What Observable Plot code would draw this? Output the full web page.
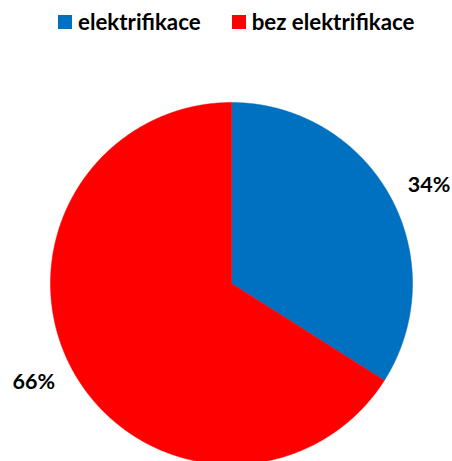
<!DOCTYPE html>
<html><head><meta charset="utf-8">
<script src="https://cdn.jsdelivr.net/npm/d3@7"></script>
<script src="https://cdn.jsdelivr.net/npm/@observablehq/plot@0.6"></script>
<style>
body{margin:0;background:#fff;font-family:Lato,"Open Sans",sans-serif;}
#legend{height:40px;display:flex;align-items:flex-start;padding-left:58px;box-sizing:border-box;padding-top:8px;font-weight:700;font-size:22.3px;color:#000;}
#legend .item{display:flex;align-items:center;}
#legend .sw{width:14px;height:14px;margin-right:6px;}
#legend .item + .item{margin-left:31px;}
#chart svg{display:block;overflow:hidden;}
</style></head>
<body>
<div id="legend"></div>
<div id="chart"></div>
<script>
const categories = ["elektrifikace", "bez elektrifikace"];
const values = [34, 66];
const labels = ["34%", "66%"];
const colors = ["#0070C0", "#FF0000"];

// legend
const leg = document.getElementById("legend");
categories.forEach((c, i) => {
  const it = document.createElement("div"); it.className = "item";
  const sw = document.createElement("div"); sw.className = "sw"; sw.style.background = colors[i];
  const tx = document.createElement("span"); tx.textContent = c;
  it.append(sw, tx); leg.append(it);
});

const arcs = d3.pie().sort(null).value(d => d)(values);
const pts = [];
arcs.forEach((a, i) => {
  const n = Math.max(2, Math.ceil((a.endAngle - a.startAngle) / 0.01));
  pts.push({cat: categories[i], x: 0, y: 0});
  for (let k = 0; k <= n; k++) {
    const t = a.startAngle + (a.endAngle - a.startAngle) * k / n;
    pts.push({cat: categories[i], x: Math.sin(t), y: Math.cos(t)});
  }
  pts.push({cat: categories[i], x: 0, y: 0});
});
const labelPts = arcs.map((a, i) => {
  const m = (a.startAngle + a.endAngle) / 2 + 0.04;
  return {label: labels[i], x: 1.22 * Math.sin(m), y: 1.22 * Math.cos(m)};
});

const W = 452, H = 421, cx = 231, cy = 243, R = 181;
const chart = Plot.plot({
  width: W, height: H,
  margin: 0,
  x: {domain: [-1, 1], range: [cx - R, cx + R], axis: null},
  y: {domain: [-1, 1], range: [cy + R, cy - R], axis: null},
  color: {domain: categories, range: colors},
  marks: [
    Plot.line(pts, {x: "x", y: "y", z: "cat", fill: "cat", stroke: "cat", strokeWidth: 0.5, curve: "linear"}),
    Plot.text(labelPts, {x: "x", y: "y", text: "label", fontSize: 21.5, fontWeight: 700, fill: "#000", fontFamily: "Lato"})
  ]
});
document.getElementById("chart").append(chart);
</script>
</body></html>
